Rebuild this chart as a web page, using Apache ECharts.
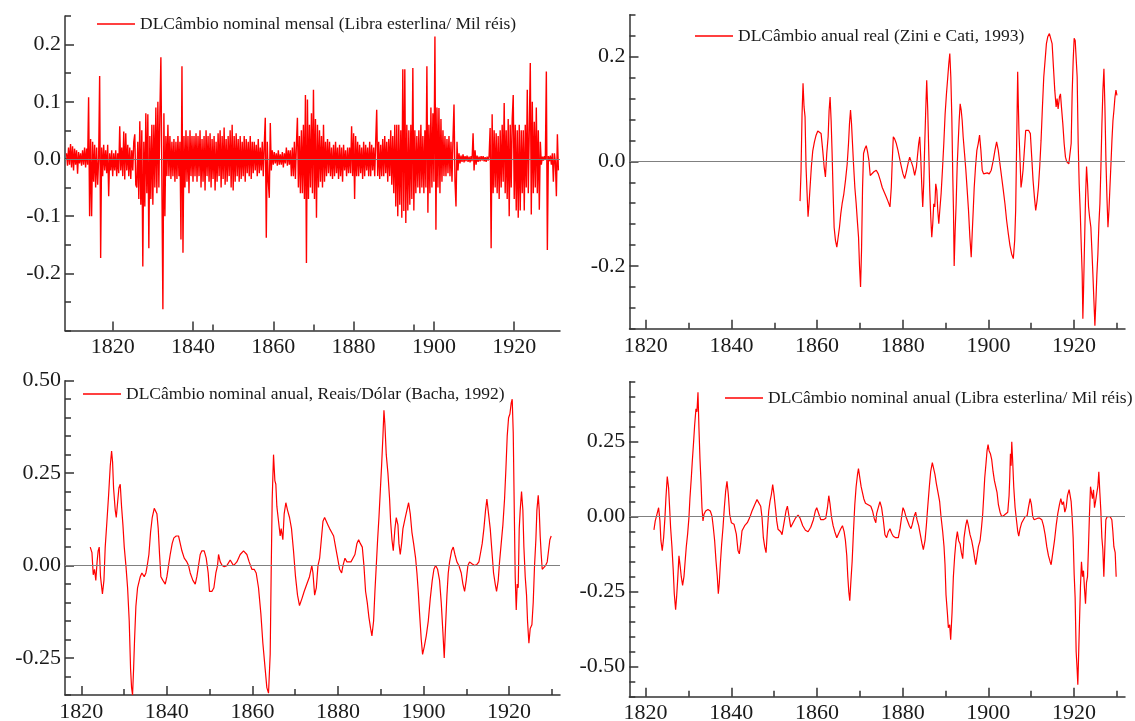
<!DOCTYPE html>
<html><head><meta charset="utf-8">
<script src="https://cdn.jsdelivr.net/npm/echarts@6/dist/echarts.min.js"></script>
<style>html,body{margin:0;padding:0;background:#fff}#c{width:1135px;height:721px}</style>
</head><body><div id="c"></div>
<script>
// ---------- series names ----------
const nomeMensal = 'DLCâmbio nominal mensal (Libra esterlina/ Mil réis)';
const nomeZini = 'DLCâmbio anual real (Zini e Cati, 1993)';
const nomeBacha = 'DLCâmbio nominal anual, Reais/Dólar (Bacha, 1992)';
const nomeLibra = 'DLCâmbio nominal anual (Libra esterlina/ Mil réis)';

// ---------- monthly series, read every quarter year from 1808.5 ----------
const mensalInicio = 1808.5;
const mensalPasso = 0.25;
const m1800 = [0.01,-0.012,0.02,-0.01,0.026,-0.015];
const m1810 = [0.022,-0.02,0.018,-0.01, 0.015,-0.026,0.012,-0.008, 0.01,-0.012,0.015,-0.01, 0.02,-0.015,0.018,-0.01,
  0.108,-0.10,0.035,-0.10, 0.03,-0.04,0.025,-0.05, 0.02,-0.045,0.0,0.145, -0.173,0.02,-0.03,0.025,
  -0.02,0.015,-0.025,0.025, -0.065,0.01,-0.02,0.015];
const m1820 = [-0.03,0.01,-0.02,0.015, -0.03,0.01,-0.025,0.057, -0.02,0.02,-0.03,0.048, -0.036,0.045,-0.02,0.025,
  -0.03,0.02,-0.035,0.015, -0.02,0.03,0.043,-0.045, -0.05,0.03,-0.07,0.066, -0.08,0.05,-0.188,0.03,
  -0.083,0.08,-0.06,0.078, -0.156,0.04,-0.07,0.06];
const m1830 = [-0.08,0.06,-0.05,0.09, -0.06,0.1,-0.05,0.08, 0.178,-0.04,-0.263,0.08, -0.1,0.04,-0.03,0.06,
  -0.03,0.04,-0.035,0.03, -0.03,0.035,-0.04,0.03, -0.035,0.04,-0.03,0.03, -0.141,0.162,-0.164,0.04,
  -0.05,0.05,-0.04,0.04, -0.06,0.05,-0.03,0.04];
const m1840 = [-0.04,0.04,-0.03,0.045, -0.04,0.04,-0.03,0.05, -0.05,0.035,-0.04,0.04, -0.055,0.05,-0.03,0.04,
  -0.04,0.045,-0.05,0.035, -0.035,0.04,-0.055,0.03, -0.04,0.045,-0.03,0.05, -0.05,0.04,-0.035,0.055,
  -0.045,0.035,-0.04,0.04, -0.03,0.05,-0.05,0.06];
const m1850 = [-0.055,0.04,-0.04,0.045, -0.03,0.035,-0.04,0.04, -0.035,0.03,-0.03,0.04, -0.04,0.035,-0.025,0.03,
  -0.03,0.04,-0.035,0.03, -0.025,0.03,-0.02,0.025, -0.03,0.035,-0.025,0.02, -0.02,0.03,-0.03,0.025,
  0.072,-0.138,0.03,-0.04, -0.068,0.063,-0.02,0.015];
const m1860 = [-0.01,0.012,-0.008,0.01, -0.012,0.015,-0.01,0.008, -0.01,0.012,-0.015,0.01, -0.008,0.02,-0.012,0.015,
  -0.01,0.015,-0.03,0.02, -0.03,0.03,-0.035,0.025, 0.072,-0.05,0.04,-0.06, 0.05,-0.06,0.06,-0.07,
  0.112,-0.182,0.104,-0.07, 0.06,-0.05,0.08,-0.06];
const m1870 = [0.121,-0.07,0.07,-0.103, 0.06,-0.05,0.05,-0.04, 0.04,-0.05,0.06,-0.04, 0.03,-0.03,0.035,-0.025,
  0.03,-0.03,0.02,-0.035, 0.025,-0.03,0.03,-0.025, 0.02,-0.035,0.025,-0.03, 0.02,-0.04,0.025,-0.02,
  0.015,-0.03,0.02,-0.025, 0.02,-0.025,0.057,-0.03];
const m1880 = [0.045,-0.07,0.04,-0.03, 0.03,-0.03,0.025,-0.025, 0.02,-0.035,0.03,-0.03, 0.025,-0.02,0.02,-0.03,
  0.03,-0.03,0.025,-0.02, 0.02,-0.03,0.03,0.086, -0.03,0.03,-0.035,0.025, -0.03,0.035,-0.03,0.04,
  -0.025,0.03,-0.04,0.035, -0.03,0.05,-0.045,0.04];
const m1890 = [-0.06,0.06,-0.083,0.06, -0.1,0.06,-0.08,0.05, -0.103,0.157,-0.091,0.157, -0.112,0.06,-0.09,0.05,
  -0.08,0.06,-0.07,0.159, -0.09,0.05,-0.06,0.04, -0.05,0.05,-0.06,0.06, -0.05,0.04,-0.06,0.05,
  -0.05,0.162,-0.094,0.06, -0.06,0.09,-0.05,0.08];
const m1900 = [-0.04,0.214,-0.124,0.09, -0.05,0.089,-0.06,0.07, -0.04,0.05,-0.03,0.04, -0.03,0.035,-0.025,0.04,
  -0.03,0.03,-0.04,0.035, 0.095,-0.04,-0.083,0.03, -0.02,0.01,-0.008,0.006, -0.005,0.008,-0.006,0.005,
  -0.004,0.006,-0.005,0.004, -0.006,0.005,-0.004,0.045];
const m1910 = [-0.02,0.015,-0.01,0.006, -0.005,0.004,-0.004,0.005, -0.003,0.005,-0.004,0.003, -0.005,0.004,-0.003,0.006,
  0.054,-0.156,0.078,-0.06, 0.05,-0.05,0.045,-0.06, 0.04,-0.07,0.05,-0.05, 0.06,-0.04,0.098,-0.06,
  0.05,-0.07,0.07,-0.1, 0.06,-0.05,0.07,0.112];
const m1920 = [-0.07,0.06,-0.09,0.05, -0.103,0.06,-0.09,0.05, -0.06,0.05,-0.09,0.06, -0.05,0.121,-0.06,0.05,
  0.168,-0.097,0.1,-0.06, 0.065,-0.05,0.09,-0.06, 0.05,-0.089,0.03,-0.01, 0.004,-0.003,0.005,-0.002,
  0.153,-0.159,0.005,-0.004, 0.006,-0.01,0.01,-0.04];
const m1930 = [0.01,-0.005,-0.065,0.043,-0.02];

// ---------- Zini e Cati (real, annual) [year, value] ----------
const zini = [[1856.02,-0.076],[1856.25,-0.02],[1856.49,0.09],[1856.72,0.149],[1856.96,0.104],[1857.19,0.085],[1857.42,-0.01],[1857.66,-0.06],[1857.89,-0.106],[1858.13,-0.08],[1858.36,-0.05],[1858.67,-0.01],[1858.99,0.02],[1859.38,0.037],[1859.77,0.05],[1860.16,0.058],[1860.55,0.056],[1860.94,0.053],[1861.33,0.02],[1861.64,-0.01],[1861.95,-0.03],[1862.26,0.015],[1862.58,0.047],[1862.81,0.097],[1863.04,0.123],[1863.28,0.078],[1863.51,0.015],[1863.75,-0.062],[1863.98,-0.126],[1864.29,-0.151],[1864.61,-0.164],[1864.92,-0.145],[1865.23,-0.126],[1865.54,-0.1],[1865.85,-0.081],[1866.25,-0.062],[1866.64,-0.036],[1867.03,-0.005],[1867.34,0.034],[1867.57,0.072],[1867.81,0.098],[1868.04,0.072],[1868.27,0.034],[1868.51,-0.005],[1868.82,-0.05],[1869.13,-0.081],[1869.45,-0.119],[1869.68,-0.145],[1869.91,-0.2],[1870.15,-0.24],[1870.38,-0.17],[1870.62,-0.05],[1870.85,0.015],[1871.16,0.024],[1871.48,0.03],[1871.79,0.018],[1872.1,0.002],[1872.41,-0.027],[1872.8,-0.024],[1873.27,-0.02],[1873.82,-0.017],[1874.29,-0.024],[1874.75,-0.036],[1875.22,-0.05],[1875.69,-0.059],[1876.16,-0.068],[1876.63,-0.078],[1877.02,-0.087],[1877.33,-0.05],[1877.56,0.002],[1877.8,0.047],[1878.11,0.043],[1878.5,0.034],[1878.89,0.021],[1879.28,0.005],[1879.67,-0.01],[1880.06,-0.024],[1880.45,-0.033],[1880.84,-0.02],[1881.23,-0.005],[1881.62,0.008],[1882.01,-0.001],[1882.4,-0.011],[1882.79,-0.027],[1883.19,-0.011],[1883.5,0.015],[1883.73,0.034],[1883.97,0.047],[1884.2,0.008],[1884.43,-0.043],[1884.67,-0.087],[1884.9,-0.043],[1885.14,0.034],[1885.37,0.098],[1885.6,0.155],[1885.84,0.098],[1886.07,0.021],[1886.31,-0.055],[1886.54,-0.106],[1886.78,-0.145],[1887.01,-0.119],[1887.24,-0.081],[1887.48,-0.087],[1887.71,-0.043],[1887.95,-0.055],[1888.18,-0.094],[1888.42,-0.119],[1888.65,-0.094],[1888.96,-0.062],[1889.27,-0.017],[1889.59,0.034],[1889.9,0.091],[1890.21,0.129],[1890.52,0.161],[1890.76,0.187],[1890.99,0.206],[1891.23,0.161],[1891.46,0.085],[1891.69,-0.03],[1891.85,-0.094],[1892.01,-0.2],[1892.24,-0.132],[1892.47,-0.081],[1892.71,-0.01],[1892.94,0.034],[1893.18,0.078],[1893.41,0.11],[1893.65,0.098],[1893.88,0.078],[1894.11,0.047],[1894.43,0.015],[1894.74,-0.017],[1895.05,-0.055],[1895.36,-0.094],[1895.68,-0.145],[1895.99,-0.183],[1896.22,-0.138],[1896.46,-0.094],[1896.69,-0.05],[1897.0,-0.01],[1897.31,0.021],[1897.63,0.034],[1897.94,0.05],[1898.25,0.021],[1898.56,-0.017],[1898.88,-0.024],[1899.27,-0.024],[1899.73,-0.022],[1900.2,-0.024],[1900.67,-0.017],[1901.14,0.002],[1901.53,0.021],[1901.92,0.037],[1902.31,0.021],[1902.7,-0.005],[1903.09,-0.03],[1903.48,-0.055],[1903.87,-0.081],[1904.26,-0.113],[1904.65,-0.138],[1905.04,-0.161],[1905.43,-0.177],[1905.82,-0.186],[1906.14,-0.151],[1906.37,-0.094],[1906.53,-0.005],[1906.68,0.078],[1906.84,0.171],[1906.99,0.11],[1907.15,0.053],[1907.39,0.002],[1907.62,-0.05],[1907.85,-0.036],[1908.09,-0.017],[1908.4,0.021],[1908.71,0.059],[1909.02,0.062],[1909.41,0.059],[1909.8,0.053],[1910.12,0.008],[1910.43,-0.036],[1910.74,-0.068],[1911.05,-0.094],[1911.37,-0.075],[1911.68,-0.05],[1911.99,-0.01],[1912.3,0.04],[1912.62,0.104],[1912.93,0.161],[1913.24,0.193],[1913.55,0.225],[1913.86,0.238],[1914.25,0.244],[1914.57,0.247],[1914.88,0.225],[1915.19,0.18],[1915.5,0.136],[1915.82,0.104],[1916.05,0.12],[1916.28,0.1],[1916.6,0.123],[1916.83,0.129],[1917.06,0.104],[1917.38,0.072],[1917.69,0.034],[1918.0,0.008],[1918.31,-0.001],[1918.78,-0.005],[1919.09,-0.005],[1919.33,0.034],[1919.56,0.129],[1919.8,0.193],[1920.03,0.235],[1920.27,0.231],[1920.5,0.231],[1920.73,0.161],[1920.97,0.034],[1921.2,-0.043],[1921.44,-0.094],[1921.67,-0.157],[1921.9,-0.215],[1922.06,-0.301],[1922.22,-0.247],[1922.45,-0.157],[1922.69,-0.068],[1922.92,-0.01],[1923.15,-0.043],[1923.39,-0.087],[1923.62,-0.106],[1923.93,-0.126],[1924.17,-0.17],[1924.4,-0.215],[1924.64,-0.266],[1924.87,-0.314],[1925.11,-0.266],[1925.34,-0.215],[1925.57,-0.177],[1925.81,-0.119],[1926.04,-0.081],[1926.28,-0.01],[1926.51,0.072],[1926.74,0.136],[1926.98,0.177],[1927.21,0.104],[1927.45,0.002],[1927.68,-0.068],[1927.92,-0.126],[1928.15,-0.094],[1928.38,-0.05],[1928.62,-0.005],[1928.85,0.04],[1929.09,0.078],[1929.32,0.098],[1929.56,0.123],[1929.79,0.136],[1930.02,0.126]];

// ---------- Bacha (Reais/Dólar, annual) [year, value] ----------
const bacha = [[1822.1,0.05],[1822.5,0.035],[1822.8,-0.025],[1823.1,-0.01],[1823.4,-0.04],[1823.7,0.01],[1823.95,0.04],[1824.2,0.05],[1824.5,-0.03],[1824.95,-0.077],[1825.3,-0.04],[1825.6,0.05],[1826.0,0.12],[1826.39,0.19],[1826.78,0.27],[1827.09,0.31],[1827.32,0.28],[1827.55,0.21],[1827.94,0.15],[1828.18,0.13],[1828.49,0.17],[1828.8,0.21],[1829.11,0.22],[1829.42,0.16],[1829.74,0.11],[1830.05,0.05],[1830.44,0.0],[1830.83,-0.06],[1831.21,-0.15],[1831.53,-0.28],[1831.76,-0.33],[1831.99,-0.35],[1832.23,-0.28],[1832.46,-0.2],[1832.77,-0.11],[1833.16,-0.06],[1833.79,-0.03],[1834.17,-0.02],[1834.72,-0.03],[1835.11,-0.02],[1835.42,0.0],[1835.81,0.03],[1836.2,0.09],[1836.59,0.13],[1837.06,0.155],[1837.68,0.14],[1837.99,0.1],[1838.3,0.03],[1838.61,-0.03],[1839.08,-0.04],[1839.63,-0.05],[1840.02,-0.03],[1840.4,0.0],[1840.79,0.03],[1841.26,0.06],[1841.65,0.075],[1842.2,0.08],[1842.74,0.08],[1843.13,0.06],[1843.52,0.04],[1844.07,0.02],[1844.69,0.01],[1845.08,0.0],[1845.47,-0.02],[1846.09,-0.04],[1846.64,-0.05],[1847.02,-0.03],[1847.41,0.0],[1847.8,0.03],[1848.19,0.04],[1848.74,0.04],[1849.21,0.02],[1849.67,-0.02],[1849.98,-0.07],[1850.53,-0.07],[1851.0,-0.06],[1851.46,-0.02],[1851.85,0.0],[1852.09,0.03],[1852.48,0.01],[1852.94,0.0],[1853.41,-0.003],[1854.03,0.0],[1854.81,0.015],[1855.59,0.0],[1856.37,0.01],[1857.15,0.03],[1857.93,0.04],[1858.71,0.03],[1859.25,0.01],[1859.88,-0.01],[1860.42,-0.01],[1860.89,-0.02],[1861.43,-0.06],[1861.98,-0.13],[1862.45,-0.21],[1862.99,-0.28],[1863.38,-0.33],[1863.77,-0.345],[1863.93,-0.34],[1864.16,-0.24],[1864.39,-0.02],[1864.63,0.18],[1864.94,0.3],[1865.25,0.23],[1865.48,0.22],[1865.72,0.16],[1866.11,0.12],[1866.5,0.08],[1866.73,0.1],[1867.12,0.07],[1867.43,0.14],[1867.82,0.17],[1868.21,0.15],[1868.68,0.13],[1869.14,0.1],[1869.61,0.04],[1870.08,-0.03],[1870.55,-0.08],[1871.01,-0.108],[1871.56,-0.09],[1872.1,-0.07],[1872.73,-0.05],[1873.35,-0.03],[1873.89,0.0],[1874.16,-0.02],[1874.55,-0.08],[1874.94,-0.06],[1875.33,0.0],[1875.72,0.02],[1876.11,0.07],[1876.5,0.12],[1876.88,0.13],[1877.27,0.12],[1877.66,0.11],[1878.05,0.1],[1878.52,0.09],[1878.99,0.08],[1879.45,0.05],[1879.92,0.02],[1880.39,-0.01],[1880.86,-0.02],[1881.17,0.0],[1881.64,0.02],[1882.1,0.01],[1882.57,0.01],[1883.04,0.01],[1883.5,0.02],[1883.97,0.03],[1884.44,0.06],[1884.83,0.07],[1885.22,0.06],[1885.69,0.05],[1886.07,0.0],[1886.46,-0.07],[1886.85,-0.1],[1887.24,-0.14],[1887.63,-0.17],[1887.94,-0.19],[1888.33,-0.15],[1888.64,-0.07],[1888.96,0.0],[1889.27,0.07],[1889.58,0.13],[1889.89,0.2],[1890.2,0.27],[1890.51,0.35],[1890.75,0.42],[1890.98,0.38],[1891.29,0.3],[1891.68,0.25],[1892.07,0.18],[1892.31,0.12],[1892.62,0.07],[1892.93,0.04],[1893.32,0.1],[1893.63,0.13],[1894.02,0.11],[1894.25,0.06],[1894.56,0.03],[1894.88,0.06],[1895.19,0.1],[1895.73,0.13],[1896.12,0.15],[1896.51,0.17],[1896.9,0.14],[1897.29,0.09],[1897.68,0.06],[1898.15,0.02],[1898.46,-0.02],[1898.77,-0.07],[1899.08,-0.13],[1899.47,-0.2],[1899.78,-0.24],[1900.17,-0.22],[1900.64,-0.19],[1901.11,-0.15],[1901.57,-0.09],[1902.04,-0.04],[1902.43,-0.01],[1902.82,0.0],[1903.29,-0.01],[1903.75,-0.04],[1904.14,-0.1],[1904.53,-0.18],[1904.84,-0.25],[1905.16,-0.16],[1905.47,-0.08],[1905.78,-0.02],[1906.09,0.01],[1906.56,0.04],[1906.95,0.05],[1907.34,0.03],[1907.8,0.01],[1908.27,0.0],[1908.82,-0.02],[1909.21,-0.05],[1909.6,-0.07],[1909.98,-0.04],[1910.37,0.0],[1910.76,0.01],[1911.31,0.005],[1911.93,0.0],[1912.48,0.003],[1912.94,0.01],[1913.26,0.03],[1913.72,0.06],[1914.11,0.1],[1914.5,0.15],[1914.81,0.18],[1915.2,0.14],[1915.59,0.1],[1915.98,0.04],[1916.37,-0.02],[1916.76,-0.05],[1917.07,-0.07],[1917.46,-0.04],[1917.77,0.01],[1918.16,0.06],[1918.55,0.11],[1918.94,0.18],[1919.25,0.26],[1919.56,0.35],[1919.88,0.40],[1920.19,0.41],[1920.5,0.44],[1920.73,0.45],[1920.97,0.36],[1921.2,0.16],[1921.43,-0.03],[1921.67,-0.12],[1921.9,-0.05],[1922.13,-0.06],[1922.37,0.1],[1922.6,0.15],[1922.91,0.2],[1923.22,0.15],[1923.46,0.05],[1923.77,-0.03],[1924.08,-0.08],[1924.31,-0.15],[1924.63,-0.21],[1924.94,-0.17],[1925.33,-0.16],[1925.64,-0.1],[1925.95,0.0],[1926.26,0.07],[1926.5,0.15],[1926.81,0.19],[1927.04,0.15],[1927.27,0.08],[1927.51,0.03],[1927.74,-0.01],[1928.13,-0.01],[1928.52,0.0],[1928.91,0.01],[1929.22,0.04],[1929.53,0.07],[1929.84,0.08]];

// ---------- Libra esterlina (nominal, annual) [year, value] ----------
const libra = [[1821.95,-0.044],[1822.26,-0.014],[1822.65,0.008],[1823.04,0.03],[1823.35,-0.014],[1823.58,-0.08],[1823.89,-0.113],[1824.21,-0.07],[1824.52,-0.003],[1824.75,0.063],[1825.06,0.134],[1825.37,0.096],[1825.61,0.03],[1825.84,-0.036],[1826.15,-0.1],[1826.46,-0.18],[1826.7,-0.257],[1827.01,-0.31],[1827.24,-0.268],[1827.48,-0.213],[1827.79,-0.13],[1828.1,-0.168],[1828.33,-0.2],[1828.64,-0.229],[1828.96,-0.2],[1829.19,-0.157],[1829.5,-0.1],[1829.81,-0.058],[1830.12,-0.003],[1830.36,0.063],[1830.67,0.129],[1830.9,0.184],[1831.21,0.25],[1831.45,0.305],[1831.76,0.36],[1831.99,0.35],[1832.23,0.415],[1832.46,0.294],[1832.69,0.195],[1832.93,0.118],[1833.16,0.03],[1833.4,-0.014],[1833.63,0.008],[1834.02,0.019],[1834.56,0.024],[1835.11,0.019],[1835.5,0.002],[1835.81,-0.036],[1836.12,-0.08],[1836.43,-0.146],[1836.74,-0.2],[1836.98,-0.257],[1837.21,-0.22],[1837.45,-0.157],[1837.76,-0.09],[1838.07,-0.036],[1838.38,0.03],[1838.69,0.085],[1839.0,0.118],[1839.31,0.074],[1839.63,0.008],[1840.02,-0.02],[1840.64,-0.025],[1841.18,-0.058],[1841.57,-0.113],[1841.88,-0.124],[1842.2,-0.09],[1842.51,-0.047],[1843.13,-0.03],[1843.75,-0.02],[1844.3,-0.003],[1844.84,0.019],[1845.47,0.04],[1846.01,0.057],[1846.4,0.052],[1846.87,0.035],[1847.18,-0.003],[1847.49,-0.07],[1847.8,-0.1],[1848.12,-0.12],[1848.43,-0.047],[1848.74,0.019],[1849.05,0.052],[1849.36,0.074],[1849.67,0.107],[1849.98,0.074],[1850.3,0.03],[1850.61,-0.014],[1850.92,-0.042],[1851.54,-0.05],[1851.85,-0.06],[1852.32,-0.02],[1852.79,0.02],[1853.1,0.035],[1853.49,0.0],[1853.88,-0.035],[1854.42,-0.02],[1854.97,-0.005],[1855.59,0.005],[1856.06,-0.005],[1856.68,-0.03],[1857.31,-0.045],[1857.93,-0.05],[1858.55,-0.035],[1859.17,-0.01],[1859.64,0.02],[1859.95,0.03],[1860.42,0.01],[1860.89,-0.01],[1861.51,-0.01],[1862.06,-0.005],[1862.45,0.03],[1862.76,0.07],[1863.07,0.04],[1863.38,0.0],[1863.77,-0.03],[1864.16,-0.05],[1864.63,-0.07],[1865.09,-0.055],[1865.56,-0.04],[1865.95,-0.03],[1866.34,-0.05],[1866.65,-0.08],[1866.96,-0.13],[1867.2,-0.2],[1867.43,-0.25],[1867.66,-0.28],[1867.9,-0.22],[1868.21,-0.15],[1868.52,-0.05],[1868.83,0.04],[1869.14,0.1],[1869.46,0.14],[1869.69,0.16],[1870.0,0.13],[1870.31,0.1],[1870.62,0.08],[1870.93,0.06],[1871.32,0.045],[1871.95,0.04],[1872.57,0.035],[1872.96,0.02],[1873.35,-0.005],[1873.74,-0.02],[1873.93,0.01],[1874.31,0.03],[1874.7,0.05],[1875.09,0.03],[1875.48,-0.01],[1875.87,-0.06],[1876.26,-0.07],[1876.65,-0.05],[1877.04,-0.04],[1877.43,-0.055],[1877.82,-0.065],[1878.36,-0.07],[1878.99,-0.07],[1879.38,-0.04],[1879.77,0.0],[1880.08,0.03],[1880.39,0.02],[1880.78,0.0],[1881.17,-0.015],[1881.56,-0.03],[1881.95,-0.04],[1882.26,-0.025],[1882.65,0.0],[1883.04,0.015],[1883.35,-0.01],[1883.74,-0.03],[1884.13,-0.06],[1884.52,-0.09],[1884.83,-0.11],[1885.22,-0.08],[1885.53,-0.03],[1885.84,0.03],[1886.23,0.1],[1886.54,0.15],[1886.93,0.18],[1887.24,0.16],[1887.55,0.14],[1887.87,0.11],[1888.26,0.08],[1888.64,0.05],[1888.96,0.0],[1889.35,-0.05],[1889.66,-0.1],[1889.89,-0.16],[1890.12,-0.26],[1890.44,-0.32],[1890.67,-0.37],[1890.98,-0.36],[1891.21,-0.41],[1891.53,-0.32],[1891.84,-0.2],[1892.15,-0.13],[1892.46,-0.08],[1892.77,-0.05],[1893.08,-0.08],[1893.4,-0.09],[1893.71,-0.12],[1894.02,-0.14],[1894.33,-0.07],[1894.72,-0.03],[1895.03,-0.01],[1895.34,-0.03],[1895.73,-0.06],[1896.12,-0.08],[1896.51,-0.11],[1896.82,-0.14],[1897.06,-0.16],[1897.37,-0.13],[1897.68,-0.1],[1898.07,-0.08],[1898.38,-0.04],[1898.69,0.01],[1898.93,0.07],[1899.16,0.13],[1899.47,0.18],[1899.7,0.22],[1899.94,0.24],[1900.17,0.22],[1900.48,0.21],[1900.79,0.19],[1901.11,0.15],[1901.42,0.12],[1901.73,0.1],[1902.04,0.08],[1902.35,0.04],[1902.74,0.015],[1903.13,0.0],[1903.68,0.005],[1904.14,0.005],[1904.53,0.015],[1904.84,0.07],[1905.0,0.13],[1905.16,0.21],[1905.31,0.17],[1905.47,0.25],[1905.7,0.18],[1905.93,0.1],[1906.25,0.03],[1906.56,-0.01],[1906.87,-0.05],[1907.1,-0.065],[1907.41,-0.04],[1907.8,-0.02],[1908.19,-0.01],[1908.58,0.0],[1909.05,0.003],[1909.36,0.03],[1909.75,0.06],[1910.06,0.04],[1910.37,0.0],[1910.69,-0.01],[1911.07,-0.005],[1911.54,-0.005],[1912.01,-0.005],[1912.48,-0.01],[1912.87,-0.03],[1913.26,-0.06],[1913.64,-0.1],[1914.03,-0.13],[1914.42,-0.15],[1914.66,-0.16],[1915.05,-0.12],[1915.44,-0.08],[1915.83,-0.03],[1916.21,0.01],[1916.6,0.04],[1916.92,0.06],[1917.23,0.04],[1917.54,0.05],[1917.85,0.015],[1918.16,0.03],[1918.47,0.07],[1918.86,0.09],[1919.1,0.07],[1919.33,0.05],[1919.56,0.0],[1919.8,-0.07],[1920.03,-0.19],[1920.26,-0.27],[1920.5,-0.45],[1920.73,-0.51],[1920.89,-0.56],[1921.04,-0.48],[1921.28,-0.35],[1921.51,-0.23],[1921.74,-0.15],[1921.98,-0.2],[1922.21,-0.18],[1922.45,-0.24],[1922.68,-0.29],[1922.91,-0.22],[1923.15,-0.2],[1923.38,-0.1],[1923.61,0.01],[1923.85,0.1],[1924.08,0.08],[1924.31,0.06],[1924.55,0.09],[1924.78,0.03],[1925.02,0.05],[1925.33,0.08],[1925.56,0.1],[1925.79,0.15],[1926.03,0.08],[1926.26,0.02],[1926.5,-0.07],[1926.73,-0.11],[1926.96,-0.2],[1927.2,-0.1],[1927.43,-0.01],[1927.74,0.0],[1928.05,0.005],[1928.44,0.0],[1928.83,-0.01],[1929.07,-0.05],[1929.3,-0.1],[1929.61,-0.12],[1929.84,-0.2]];

// ---------- tick values ----------
const anosMaiores = [1820,1840,1860,1880,1900,1920];
const anosMenoresMensal = [1845,1870,1895];
const anosMenores = [1830,1850,1870,1890,1910,1930];
const yMaior1 = [-0.2,-0.1,0,0.1,0.2];
const yMenor1 = [-0.3,-0.25,-0.15,-0.05,0.05,0.15,0.25];
const yMaior2 = [-0.2,0,0.2];
const yMenor2 = [-0.32,-0.28,-0.24,-0.16,-0.12,-0.08,-0.04,0.04,0.08,0.12,0.16,0.24,0.28];
const yMaior3 = [-0.25,0,0.25,0.5];
const yMenor3 = [-0.35,-0.3,-0.2,-0.15,-0.1,-0.05,0.05,0.1,0.15,0.2,0.3,0.35,0.4,0.45];
const yMaior4 = [-0.5,-0.25,0,0.25];
const yMenor4 = [-0.6,-0.55,-0.45,-0.4,-0.35,-0.3,-0.2,-0.15,-0.1,-0.05,0.05,0.1,0.15,0.2,0.3,0.35,0.4,0.45];

// ---------- build ----------
const mensalValores = [].concat(m1800,m1810,m1820,m1830,m1840,m1850,m1860,m1870,m1880,m1890,m1900,m1910,m1920,m1930);
const mensal = mensalValores.map((v,i)=>[mensalInicio + i*mensalPasso, v]);

const AX = '#333';
const TXT = '#1a1a1a';
const FONT = "'Liberation Serif', 'Times New Roman', serif";
const RED = '#ff0000';

const grids = [
  {left:65, top:16, width:495, height:314.5},
  {left:629.5, top:14.8, width:495.5, height:314},
  {left:65, top:380.7, width:495, height:314.3},
  {left:629.3, top:381.7, width:495.7, height:315}
].map(g=>Object.assign({containLabel:false, outerBoundsMode:'none'}, g));

function xPair(gi, min, max, majors, minors){
  return [
    {type:'value', gridIndex:gi, min, max, position:'bottom',
     axisLine:{show:true, onZero:false, lineStyle:{color:AX, width:1.5}},
     axisTick:{show:true, inside:true, length:9, customValues:majors, lineStyle:{color:AX, width:1.5}},
     axisLabel:{show:true, customValues:majors, fontFamily:FONT, fontSize:22, color:TXT, margin:6, formatter:v=>String(Math.round(v))},
     splitLine:{show:false}},
    {type:'value', gridIndex:gi, min, max, position:'bottom',
     axisLine:{show:false, onZero:false},
     axisTick:{show:true, inside:true, length:6, customValues:minors, lineStyle:{color:AX, width:1.5}},
     axisLabel:{show:false}, splitLine:{show:false}}
  ];
}
function yPair(gi, min, max, majors, minors, dec){
  return [
    {type:'value', gridIndex:gi, min, max, position:'left',
     axisLine:{show:true, onZero:false, lineStyle:{color:AX, width:1.5}},
     axisTick:{show:true, inside:true, length:9, customValues:majors, lineStyle:{color:AX, width:1.5}},
     axisLabel:{show:true, customValues:majors, fontFamily:FONT, fontSize:22, color:TXT, margin:4, formatter:v=>v.toFixed(dec)},
     splitLine:{show:false}},
    {type:'value', gridIndex:gi, min, max, position:'left',
     axisLine:{show:false, onZero:false},
     axisTick:{show:true, inside:true, length:6, customValues:minors, lineStyle:{color:AX, width:1.5}},
     axisLabel:{show:false}, splitLine:{show:false}}
  ];
}

const xAxis = [].concat(
  xPair(0, 1808.12, 1931.4, anosMaiores, anosMenoresMensal),
  xPair(1, 1816.2, 1931.9, anosMaiores, anosMenores),
  xPair(2, 1816.2, 1931.9, anosMaiores, anosMenores),
  xPair(3, 1816.2, 1931.9, anosMaiores, anosMenores)
);
const yAxis = [].concat(
  yPair(0, -0.30, 0.25, yMaior1, yMenor1, 1),
  yPair(1, -0.32, 0.28, yMaior2, yMenor2, 1),
  yPair(2, -0.35, 0.50, yMaior3, yMenor3, 2),
  yPair(3, -0.60, 0.45, yMaior4, yMenor4, 2)
);

function zero(gi){
  return {type:'line', xAxisIndex:gi*2, yAxisIndex:gi*2, data:[], silent:true, z:1,
    markLine:{silent:true, symbol:'none', animation:false, label:{show:false},
      lineStyle:{color:'#808080', width:1, type:'solid'}, data:[{yAxis:0}]}};
}
function serie(gi, name, data, w){
  return {type:'line', name, xAxisIndex:gi*2, yAxisIndex:gi*2, data, showSymbol:false, symbol:'none',
    silent:true, z:3, clip:true, lineStyle:{color:RED, width:w}, itemStyle:{color:RED}};
}
function legenda(name, left, top){
  return {data:[name], left, top, padding:0, itemWidth:38, itemHeight:1.6, icon:'rect', selectedMode:false,
    textStyle:{fontFamily:FONT, fontSize:17.5, color:TXT}};
}

const option = {
  animation:false,
  backgroundColor:'#fff',
  grid: grids,
  xAxis, yAxis,
  legend:[
    legenda(nomeMensal, 97, 15),
    legenda(nomeZini, 695, 27),
    legenda(nomeBacha, 83, 385),
    legenda(nomeLibra, 725, 389)
  ],
  series:[
    zero(0), zero(1), zero(2), zero(3),
    serie(0, nomeMensal, mensal, 1.4),
    serie(1, nomeZini, zini, 1.2),
    serie(2, nomeBacha, bacha, 1.2),
    serie(3, nomeLibra, libra, 1.2)
  ]
};
const chart = echarts.init(document.getElementById('c'));
chart.setOption(option);
</script></body></html>
